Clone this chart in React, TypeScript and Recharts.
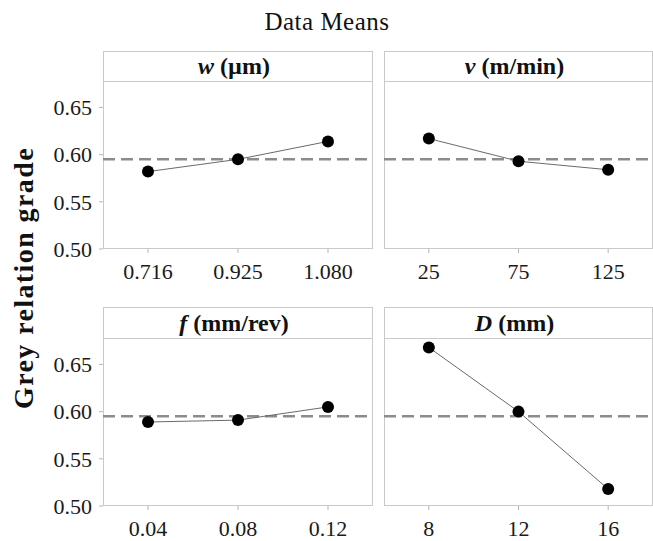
import React from 'react';
import { LineChart, Line, XAxis, YAxis, ReferenceLine } from 'recharts';

// Factor levels and mean grey relational grade at each level
const wLevels = ['0.716', '0.925', '1.080'];
const wMeans = [0.582, 0.595, 0.614];

const vLevels = ['25', '75', '125'];
const vMeans = [0.617, 0.593, 0.584];

const fLevels = ['0.04', '0.08', '0.12'];
const fMeans = [0.589, 0.591, 0.605];

const dLevels = ['8', '12', '16'];
const dMeans = [0.668, 0.6, 0.518];

const grandMean = 0.595;
const yTicks = [0.5, 0.55, 0.6, 0.65];
const yDomain: [number, number] = [0.5, 0.678];

const W = 653;
const H = 541;
const SERIF = '"Liberation Serif", "Times New Roman", serif';
const BORDER = '#c9c9c9';

type PanelProps = {
  symbol: string;
  unit: string;
  levels: string[];
  means: number[];
  left: number;
  right: number;
  headerTop: number;
  plotTop: number;
  plotBottom: number;
  showY: boolean;
};

function Panel({ symbol, unit, levels, means, left, right, headerTop, plotTop, plotBottom, showY }: PanelProps) {
  const data = levels.map((level, i) => ({ level, mean: means[i] }));
  const plotW = right - left;
  const yAxisW = 60;
  const xAxisH = 30;
  const pad = plotW / 6;
  return (
    <>
      <div
        style={{
          position: 'absolute',
          left,
          top: headerTop,
          width: plotW,
          height: plotBottom - headerTop,
          border: `1px solid ${BORDER}`,
          boxSizing: 'border-box',
        }}
      >
        <div
          style={{
            height: plotTop - headerTop,
            borderBottom: `1px solid ${BORDER}`,
            boxSizing: 'border-box',
            fontFamily: SERIF,
            fontWeight: 'bold',
            fontSize: 24,
            lineHeight: `${plotTop - headerTop - 1}px`,
            textAlign: 'center',
            color: '#111',
            paddingRight: 8,
          }}
        >
          <span style={{ fontStyle: 'italic' }}>{symbol}</span> ({unit})
        </div>
      </div>
      <div style={{ position: 'absolute', left: 0, top: 0 }}>
        <LineChart
          width={W}
          height={H}
          data={data}
          margin={{
            top: plotTop,
            right: W - right,
            bottom: H - plotBottom - xAxisH,
            left: showY ? left - yAxisW : left,
          }}
        >
          <XAxis
            dataKey="level"
            type="category"
            interval={0}
            height={xAxisH}
            padding={{ left: pad, right: pad }}
            axisLine={false}
            tickLine={{ stroke: '#b5b5b5' }}
            tickSize={4}
            tickMargin={10}
            tick={{ fill: '#1a1a1a', fontSize: 22, fontFamily: SERIF }}
          />
          <YAxis
            hide={!showY}
            width={yAxisW}
            domain={yDomain}
            ticks={yTicks}
            allowDataOverflow
            axisLine={false}
            tickLine={{ stroke: '#b5b5b5' }}
            tickSize={4}
            tickMargin={7}
            tickFormatter={(v: number) => v.toFixed(2)}
            tick={{ fill: '#1a1a1a', fontSize: 22, fontFamily: SERIF }}
          />
          <ReferenceLine y={grandMean} stroke="#8c8c8c" strokeWidth={2.5} strokeDasharray="12 6" />
          <Line
            dataKey="mean"
            stroke="#6a6a6a"
            strokeWidth={1}
            dot={{ r: 6, fill: '#000', stroke: '#000', strokeWidth: 0 }}
            activeDot={false}
            isAnimationActive={false}
          />
        </LineChart>
      </div>
    </>
  );
}

export default function App() {
  const colL = { left: 103, right: 373 };
  const colR = { left: 384, right: 653 };
  const rowT = { headerTop: 51, plotTop: 81, plotBottom: 249 };
  const rowB = { headerTop: 307, plotTop: 338, plotBottom: 506 };
  return (
    <div style={{ position: 'absolute', left: 0, top: 0, width: W, height: H, background: '#fff', overflow: 'hidden' }}>
      <svg width={W} height={H} style={{ position: 'absolute', left: 0, top: 0 }}>
        <text
          x={327}
          y={30}
          textAnchor="middle"
          fontFamily={SERIF}
          fontSize={25}
          letterSpacing={0.5}
          fill="#111"
        >
          Data Means
        </text>
        <text
          x={33}
          y={278}
          transform="rotate(-90, 33, 278)"
          textAnchor="middle"
          fontFamily={SERIF}
          fontWeight="bold"
          fontSize={28}
          letterSpacing={1.4}
          fill="#111"
        >
          Grey relation grade
        </text>
      </svg>
      <Panel symbol="w" unit="µm" levels={wLevels} means={wMeans} {...colL} {...rowT} showY />
      <Panel symbol="v" unit="m/min" levels={vLevels} means={vMeans} {...colR} {...rowT} showY={false} />
      <Panel symbol="f" unit="mm/rev" levels={fLevels} means={fMeans} {...colL} {...rowB} showY />
      <Panel symbol="D" unit="mm" levels={dLevels} means={dMeans} {...colR} {...rowB} showY={false} />
    </div>
  );
}
